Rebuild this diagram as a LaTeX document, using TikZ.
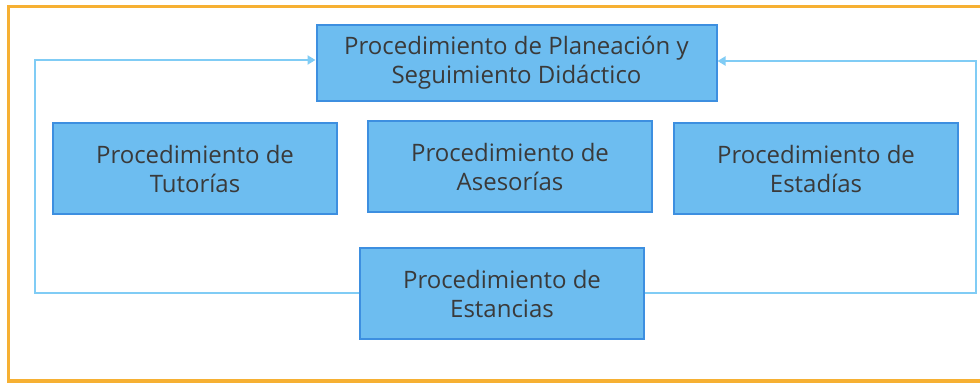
\documentclass[tikz,border=0pt]{standalone}
\usepackage{fontspec}
\setmainfont{Open Sans}
\usetikzlibrary{arrows.meta}
\definecolor{boxfill}{HTML}{6DBDF0}
\definecolor{boxline}{HTML}{3D8FE0}
\definecolor{linkc}{HTML}{80CCF5}
\definecolor{orng}{HTML}{F6B033}
\definecolor{txt}{HTML}{3A3A3A}
\tikzset{
  procbox/.style={draw=boxline, line width=2pt, fill=boxfill, inner sep=0pt,
    text=txt, align=center, font=\fontsize{24}{29}\selectfont},
  link/.style={draw=linkc, line width=2pt},
  linkarrow/.style={link, -{Triangle[length=8pt,width=9pt]}}
}
\begin{document}
\begin{tikzpicture}[x=1pt,y=-1pt]
\useasboundingbox (0,0) rectangle (980,383);
\fill[white] (0,0) rectangle (980,383);
\draw[orng, line width=3.5pt] (995,6.5) -- (8.5,6.5) -- (8.5,381) -- (995,381);
\node[procbox, minimum width=400pt, minimum height=76pt] (plan) at (516.5,63) {Procedimiento de Planeación y\\Seguimiento Didáctico};
\node[procbox, minimum width=284pt, minimum height=91pt] (tut) at (195,168.5) {Procedimiento de\\Tutorías};
\node[procbox, minimum width=284pt, minimum height=91pt] (ase) at (510,166.5) {Procedimiento de\\Asesorías};
\node[procbox, minimum width=284pt, minimum height=91pt] (esd) at (816,168.5) {Procedimiento de\\Estadías};
\node[procbox, minimum width=284pt, minimum height=91pt] (est) at (502,293.5) {Procedimiento de\\Estancias};
\coordinate (l1) at (35,293);
\coordinate (l2) at (35,60);
\coordinate (r1) at (976,293);
\coordinate (r2) at (976,61);
\draw[linkarrow] (est.west |- l1) -- (l1) -- (l2) -- (plan.west |- l2);
\draw[linkarrow] (est.east |- r1) -- (r1) -- (r2) -- (plan.east |- r2);
\end{tikzpicture}
\end{document}
